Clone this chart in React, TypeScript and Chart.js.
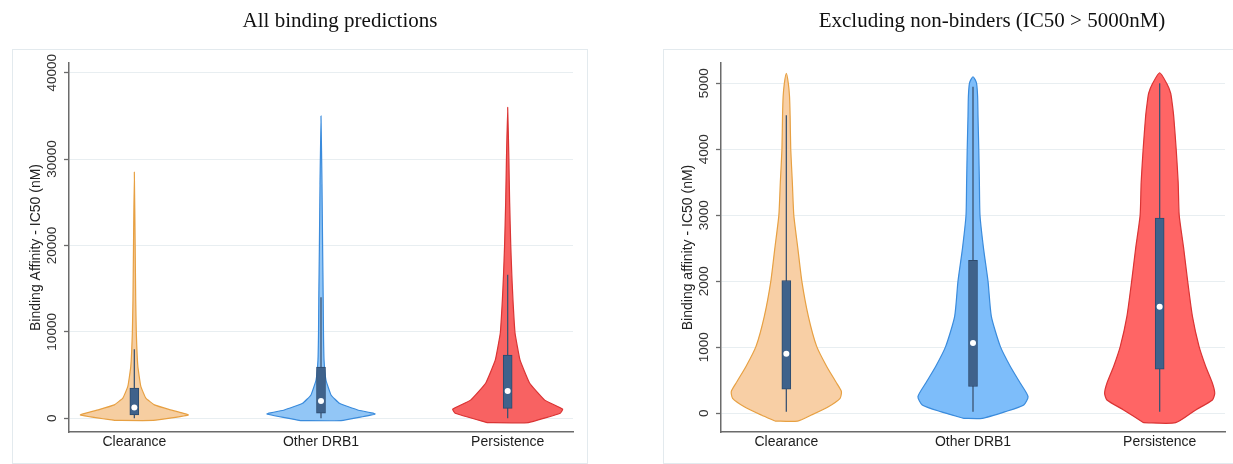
import React, { useEffect, useRef } from 'react';
import { Chart, registerables } from 'chart.js';

Chart.register(...registerables);
Chart.defaults.font.family = '"Liberation Sans", Arial, Helvetica, sans-serif';

// ---------------- data ----------------
const categories = ['Clearance', 'Other DRB1', 'Persistence'];
const categoryPositions = [1, 2, 3];

const leftYTicks = [0, 10000, 20000, 30000, 40000];
const rightYTicks = [0, 1000, 2000, 3000, 4000, 5000];

// Left panel – all binding predictions: violin outline (IC50 level, relative density)
const allClearanceLevels = [-250, 390, 970, 1550, 2330, 3680, 6000, 9900, 13700, 20000, 28500];
const allClearanceDensity = [0.345, 0.98, 0.655, 0.364, 0.209, 0.118, 0.064, 0.036, 0.025, 0.015, 0];
const allOtherLevels = [-270, 500, 960, 1730, 2700, 4400, 6750, 9900, 13700, 20000, 27000, 35000];
const allOtherDensity = [0.364, 0.982, 0.667, 0.333, 0.182, 0.091, 0.055, 0.045, 0.04, 0.029, 0.018, 0];
const allPersistLevels = [-500, 580, 1040, 2100, 4050, 6750, 9900, 13700, 16500, 20000, 25000, 30000, 36000];
const allPersistDensity = [0.376, 0.955, 1.0, 0.673, 0.4, 0.224, 0.133, 0.096, 0.076, 0.056, 0.036, 0.022, 0];

// Left panel box plots
const allQ1 = [390, 580, 1150];
const allQ3 = [3480, 5930, 7300];
const allMedian = [1240, 2000, 3150];
const allWhiskerLow = [0, 0, 0];
const allWhiskerHigh = [8000, 14000, 16600];

// Right panel – excluding non-binders: violin outline
const binClearanceLevels = [-117, -25, 101, 228, 330, 456, 710, 1014, 1470, 2000, 2500, 3000, 3500, 4000, 4500, 4800, 5000, 5150];
const binClearanceDensity = [0.205, 0.455, 0.764, 0.976, 1.0, 0.915, 0.733, 0.551, 0.4, 0.282, 0.209, 0.136, 0.109, 0.08, 0.069, 0.058, 0.036, 0];
const binOtherLevels = [-76, 25, 127, 253, 456, 710, 1014, 1470, 2000, 2500, 3000, 3500, 4000, 4500, 4800, 5000, 5060, 5100];
const binOtherDensity = [0.169, 0.587, 0.922, 1.0, 0.86, 0.678, 0.496, 0.333, 0.273, 0.191, 0.127, 0.116, 0.105, 0.091, 0.084, 0.065, 0.036, 0];
const binPersistLevels = [-142, 51, 203, 304, 456, 710, 1014, 1470, 2000, 2500, 3000, 3500, 4000, 4500, 4700, 4850, 5000, 5160];
const binPersistDensity = [0.291, 0.655, 0.958, 1.0, 0.958, 0.836, 0.715, 0.595, 0.509, 0.436, 0.355, 0.336, 0.3, 0.255, 0.227, 0.2, 0.127, 0];

// Right panel box plots
const binQ1 = [365, 406, 670];
const binQ3 = [2013, 2317, 2957];
const binMedian = [902, 1065, 1613];
const binWhiskerLow = [25, 25, 25];
const binWhiskerHigh = [4515, 4950, 5000];

// ---------------- styling ----------------
const VIOLIN_HALF_WIDTH = 0.295;
const X_MIN = 0.65;
const X_MAX = 3.35;
const AXIS_COLOR = '#6b6b6b';
const GRID_COLOR = '#e8eef1';
const BOX_FILL = '#3f628b';
const BOX_LINE = '#2d4a6d';
const WHISKER = '#3c5472';
const violinStroke = ['#e7a042', '#3a8bdc', '#da3434'];

type PanelSpec = {
  canvasLeft: number;
  canvasWidth: number;
  padding: { left: number; right: number; top: number; bottom: number };
  title: string;
  titleX: number;
  frame: { x: number; y: number; w: number; h: number };
  yTitle: string;
  yTicks: number[];
  yMin: number;
  yMax: number;
  tickPadding: number;
  tension: number;
  levels: number[][];
  density: number[][];
  fills: string[];
  q1: number[];
  q3: number[];
  median: number[];
  wLow: number[];
  wHigh: number[];
};

const leftSpec: PanelSpec = {
  canvasLeft: 0,
  canvasWidth: 616,
  padding: { left: 0, right: 43, top: 63, bottom: 0 },
  title: 'All binding predictions',
  titleX: 340,
  frame: { x: 12.5, y: 49.5, w: 575, h: 414 },
  yTitle: 'Binding Affinity - IC50 (nM)',
  yTicks: leftYTicks,
  yMin: -1590,
  yMax: 41120,
  tickPadding: -7,
  tension: 0.1,
  levels: [allClearanceLevels, allOtherLevels, allPersistLevels],
  density: [allClearanceDensity, allOtherDensity, allPersistDensity],
  fills: ['#f6cea1', '#92c6f6', '#f86262'],
  q1: allQ1,
  q3: allQ3,
  median: allMedian,
  wLow: allWhiskerLow,
  wHigh: allWhiskerHigh,
};

const rightSpec: PanelSpec = {
  canvasLeft: 616,
  canvasWidth: 617,
  padding: { left: 36, right: 8, top: 63, bottom: 0 },
  title: 'Excluding non-binders (IC50 > 5000nM)',
  titleX: 376,
  frame: { x: 47.5, y: 49.5, w: 600, h: 414 },
  yTitle: 'Binding affinity - IC50 (nM)',
  yTicks: rightYTicks,
  yMin: -283,
  yMax: 5308,
  tickPadding: -3.5,
  tension: 0.2,
  levels: [binClearanceLevels, binOtherLevels, binPersistLevels],
  density: [binClearanceDensity, binOtherDensity, binPersistDensity],
  fills: ['#f8cfa5', '#7dbdfa', '#ff6565'],
  q1: binQ1,
  q3: binQ3,
  median: binMedian,
  wLow: binWhiskerLow,
  wHigh: binWhiskerHigh,
};

const panelDecor = {
  id: 'panelDecor',
  beforeDraw(chart: any, _args: any, opts: any) {
    const ctx = chart.ctx;
    ctx.save();
    ctx.strokeStyle = '#e3eaee';
    ctx.lineWidth = 1;
    ctx.strokeRect(opts.frame.x, opts.frame.y, opts.frame.w, opts.frame.h);
    ctx.restore();
  },
  afterDraw(chart: any, _args: any, opts: any) {
    const ctx = chart.ctx;
    ctx.save();
    ctx.font = '21px "Liberation Serif", "Times New Roman", serif';
    ctx.fillStyle = '#111';
    ctx.textAlign = 'center';
    ctx.textBaseline = 'middle';
    ctx.fillText(opts.text, opts.x, 21);
    ctx.restore();
  },
};

function buildConfig(spec: PanelSpec): any {
  const violins = categoryPositions.map((c, k) => {
    const lv = spec.levels[k];
    const d = spec.density[k];
    const leftSide = lv.map((v, i) => ({ x: c - d[i] * VIOLIN_HALF_WIDTH, y: v }));
    const rightSide = lv.map((v, i) => ({ x: c + d[i] * VIOLIN_HALF_WIDTH, y: v })).reverse();
    const pts = [...leftSide, ...rightSide.slice(1), leftSide[0]];
    return {
      type: 'line',
      label: categories[k],
      data: pts,
      indexAxis: 'y',
      fill: 'shape',
      showLine: true,
      backgroundColor: spec.fills[k],
      borderColor: violinStroke[k],
      borderWidth: 1.2,
      borderJoinStyle: 'round',
      pointRadius: 0,
      pointHoverRadius: 0,
      tension: spec.tension,
      order: 4,
    };
  });

  const whiskerPts: any[] = [];
  categoryPositions.forEach((c, k) => {
    whiskerPts.push({ x: c, y: spec.wLow[k] }, { x: c, y: spec.wHigh[k] }, { x: c, y: null });
  });

  const datasets: any[] = [
    ...violins,
    {
      type: 'line',
      label: 'whiskers',
      data: whiskerPts,
      showLine: true,
      spanGaps: false,
      fill: false,
      borderColor: WHISKER,
      borderWidth: 1.3,
      pointRadius: 0,
      order: 3,
    },
    {
      type: 'bar',
      label: 'IQR',
      data: categoryPositions.map((c, k) => ({ x: c, y: [spec.q1[k], spec.q3[k]] })),
      backgroundColor: BOX_FILL,
      borderColor: BOX_LINE,
      borderWidth: 1,
      borderSkipped: false,
      barThickness: 9,
      order: 2,
    },
    {
      type: 'line',
      label: 'median',
      data: categoryPositions.map((c, k) => ({ x: c, y: spec.median[k] })),
      showLine: false,
      pointRadius: 3,
      pointBackgroundColor: '#ffffff',
      pointBorderColor: '#ffffff',
      pointBorderWidth: 0,
      order: 1,
    },
  ];

  return {
    type: 'line',
    data: { datasets },
    options: {
      responsive: false,
      animation: false,
      events: [],
      layout: { padding: spec.padding },
      plugins: {
        legend: { display: false },
        tooltip: { enabled: false },
        title: { display: false },
        panelDecor: { text: spec.title, x: spec.titleX, frame: spec.frame },
      },
      scales: {
        x: {
          type: 'linear',
          min: X_MIN,
          max: X_MAX,
          offset: false,
          afterBuildTicks: (s: any) => {
            s.ticks = categoryPositions.map((v) => ({ value: v }));
          },
          afterFit: (s: any) => {
            s.height = 32;
          },
          ticks: {
            autoSkip: false,
            maxRotation: 0,
            minRotation: 0,
            padding: 2,
            color: '#1e1e1e',
            font: { size: 14 },
            callback: (v: number) => categories[categoryPositions.indexOf(v)] ?? '',
          },
          grid: { display: false, drawTicks: false, offset: false },
          border: { display: true, color: AXIS_COLOR, width: 1.5 },
        },
        y: {
          type: 'linear',
          min: spec.yMin,
          max: spec.yMax,
          offset: false,
          beginAtZero: false,
          afterBuildTicks: (s: any) => {
            s.ticks = spec.yTicks.map((v) => ({ value: v }));
          },
          afterFit: (s: any) => {
            s.width = 69;
          },
          ticks: {
            minRotation: 90,
            maxRotation: 90,
            crossAlign: 'center',
            padding: spec.tickPadding,
            color: '#333',
            font: { size: 13.5 },
            callback: (v: number) => String(v),
          },
          grid: {
            color: GRID_COLOR,
            lineWidth: 1,
            drawTicks: true,
            tickLength: 5,
            tickColor: AXIS_COLOR,
            tickWidth: 1.3,
          },
          border: { display: true, color: AXIS_COLOR, width: 1.5 },
          title: {
            display: true,
            text: spec.yTitle,
            color: '#222',
            font: { size: 14 },
            padding: { top: 27.6, bottom: 0 },
          },
        },
      },
    },
    plugins: [panelDecor],
  };
}

function ViolinPanel({ spec }: { spec: PanelSpec }) {
  const ref = useRef<HTMLCanvasElement | null>(null);
  useEffect(() => {
    if (!ref.current) return;
    const chart = new Chart(ref.current, buildConfig(spec));
    return () => chart.destroy();
  }, [spec]);
  return (
    <canvas
      ref={ref}
      width={spec.canvasWidth}
      height={464}
      style={{ position: 'absolute', left: spec.canvasLeft, top: 0, width: spec.canvasWidth, height: 464, display: 'block' }}
    />
  );
}

export default function App() {
  return (
    <div style={{ position: 'absolute', left: 0, top: 0, width: 1233, height: 464, background: '#ffffff', overflow: 'hidden' }}>
      <ViolinPanel spec={leftSpec} />
      <ViolinPanel spec={rightSpec} />
    </div>
  );
}
